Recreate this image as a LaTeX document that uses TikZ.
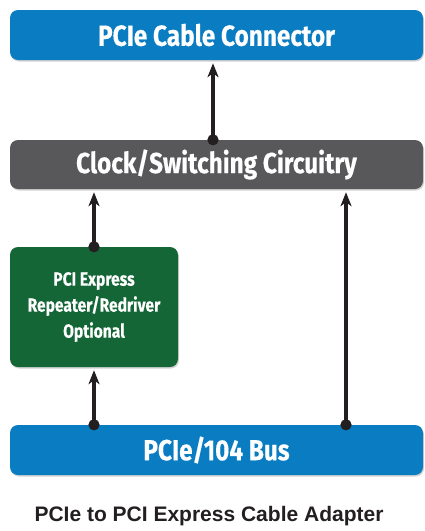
\documentclass[tikz,border=0pt]{standalone}
\usepackage{fontspec}
\setmainfont{Liberation Sans}
\newfontfamily\boxfont[FakeStretch=0.84,FakeBold=0.4]{Fira Sans}
\newfontfamily\rptfont[FakeStretch=0.82,FakeBold=0.4]{Fira Sans}
\usetikzlibrary{arrows.meta,shadows}
\definecolor{busblue}{HTML}{0A7DC2}
\definecolor{clkgray}{HTML}{58585A}
\definecolor{rptgreen}{HTML}{146636}
\definecolor{linkblack}{HTML}{231F20}
\begin{document}
\begin{tikzpicture}[x=1pt,y=-1pt,line join=round,
  blockbox/.style={rectangle,rounded corners=8pt,inner sep=0pt,text=white,
    font=\boxfont\bfseries\fontsize{29}{32}\selectfont,
    drop shadow={shadow xshift=1pt,shadow yshift=-1.5pt,opacity=.35}},
  link/.style={linkblack,line width=3.4pt,
    {Circle[length=11pt]}-{Stealth[length=14pt,width=11pt,inset=4pt]},
    shorten <=-5.5pt,shorten >=3pt}]
\useasboundingbox (0,0) rectangle (425,531);
\node[blockbox,fill=busblue,minimum width=413pt,minimum height=50pt]
  (cable) at (216.5,35) {PCIe Cable Connector};
\node[blockbox,fill=clkgray,minimum width=413pt,minimum height=49pt]
  (clk) at (216.5,164.5) {Clock/Switching Circuitry};
\node[blockbox,fill=rptgreen,minimum width=168pt,minimum height=120pt,
  align=center,font=\rptfont\bfseries\fontsize{19}{26}\selectfont]
  (rpt) at (94,307) {PCI Express\\Repeater/Redriver\\Optional};
\node[blockbox,fill=busblue,minimum width=413pt,minimum height=50pt]
  (bus) at (216.5,450) {PCIe/104 Bus};
\node[font=\bfseries\fontsize{21}{24}\selectfont,text=linkblack]
  (title) at (209,516) {PCIe to PCI Express Cable Adapter};
% connectors
\draw[link] ([xshift=-3.5pt]clk.north) -- ([xshift=-3.5pt]cable.south);
\draw[link] (rpt.north) -- (rpt.north |- clk.south);
\draw[link] (bus.north -| rpt.south) -- (rpt.south);
\draw[link] ([xshift=129.5pt]bus.north) -- ([xshift=129.5pt]clk.south);
\end{tikzpicture}
\end{document}
